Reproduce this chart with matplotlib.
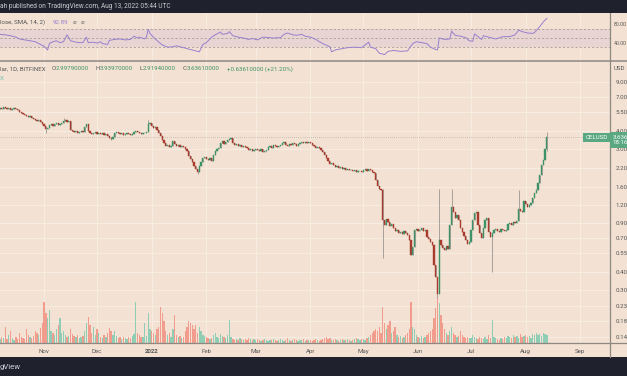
import numpy as np
import pandas as pd
import matplotlib
matplotlib.use('Agg')
import matplotlib.pyplot as plt
import matplotlib.ticker as mticker
from matplotlib.patches import Rectangle
from matplotlib.lines import Line2D
from matplotlib.transforms import blended_transform_factory, offset_copy

plt.rcParams['font.family'] = ['Roboto', 'DejaVu Sans']

# CEL/USD 日线收盘价（按月读出）
close_oct = [5.86, 5.76, 5.95, 5.86, 5.76, 5.86, 5.67, 5.76, 5.86, 5.76,
             5.67, 5.49, 5.40, 5.31, 5.22, 5.14, 5.06, 5.14, 4.97, 4.89,
             4.82, 4.74, 4.82, 4.66, 4.51]
close_nov = [4.37, 4.16, 4.23, 4.44, 4.51, 4.37, 4.51, 4.59, 4.44, 4.51,
             4.59, 4.74, 4.82, 4.66, 4.74, 4.09, 4.02, 3.96, 4.02, 3.89,
             3.96, 4.02, 3.96, 4.30, 4.51, 4.02, 3.89, 3.83, 3.89, 3.96]
close_dec = [3.83, 3.89, 3.83, 3.89, 3.77, 3.83, 3.71, 3.59, 3.53, 3.65,
             3.89, 3.96, 3.89, 3.83, 3.89, 3.77, 3.83, 3.89, 3.83, 3.77,
             3.83, 3.96, 4.02, 3.96, 3.89, 3.83, 3.89, 3.89, 3.96, 4.51,
             4.59]
close_jan = [4.37, 4.23, 4.30, 4.09, 3.89, 3.71, 3.47, 3.31, 3.15, 3.20,
             3.10, 3.15, 3.42, 3.25, 3.15, 3.20, 3.10, 3.15, 3.10, 3.00,
             2.90, 2.68, 2.55, 2.43, 2.27, 2.16, 2.06, 2.27, 2.43, 2.59,
             2.63]
close_feb = [2.55, 2.51, 2.59, 2.47, 2.72, 2.90, 3.00, 3.05, 3.31, 3.42,
             3.25, 3.36, 3.47, 3.53, 3.59, 3.31, 3.20, 3.25, 3.15, 3.20,
             3.10, 3.15, 3.10, 3.05, 2.95, 3.00, 2.90, 2.95]
close_mar = [3.00, 2.95, 2.90, 3.00, 2.86, 2.90, 2.95, 3.10, 3.15, 3.05,
             3.20, 3.15, 3.10, 3.15, 3.20, 3.31, 3.36, 3.20, 3.15, 3.25,
             3.20, 3.31, 3.25, 3.15, 3.25, 3.31, 3.36, 3.31, 3.36, 3.31,
             3.36]
close_apr = [3.31, 3.20, 3.15, 3.05, 3.10, 3.05, 2.95, 2.86, 2.72, 2.59,
             2.47, 2.35, 2.39, 2.31, 2.24, 2.27, 2.20, 2.24, 2.16, 2.20,
             2.13, 2.16, 2.13, 2.13, 2.09, 2.13, 2.06, 2.09, 2.09, 2.06]
close_may = [2.13, 2.16, 2.09, 2.16, 2.13, 2.06, 2.03, 1.81, 1.64, 1.56,
             1.54, 0.94, 0.87, 0.96, 0.91, 0.85, 0.88, 0.83, 0.79, 0.80,
             0.76, 0.77, 0.75, 0.79, 0.76, 0.74, 0.68, 0.53, 0.61, 0.80,
             0.81]
close_jun = [0.79, 0.80, 0.83, 0.79, 0.80, 0.71, 0.69, 0.66, 0.63, 0.45,
             0.37, 0.28, 0.68, 0.63, 0.60, 0.58, 0.62, 0.59, 0.87, 1.16,
             1.07, 0.97, 1.02, 0.94, 0.83, 0.77, 0.72, 0.68, 0.64, 0.66]
close_jul = [0.80, 0.94, 1.05, 1.07, 0.87, 0.76, 0.70, 0.83, 0.94, 0.97,
             0.77, 0.71, 0.76, 0.80, 0.81, 0.79, 0.77, 0.81, 0.80, 0.79,
             0.80, 0.88, 0.90, 0.87, 0.91, 0.90, 0.93, 1.13, 1.09, 1.07,
             1.28]
close_aug = [1.22, 1.16, 1.20, 1.24, 1.35, 1.46, 1.54, 1.71, 1.96, 2.31,
             2.51, 3.00, 3.636]

# 成交量（相对值）
vol_oct = [4, 6, 5, 16, 4, 8, 12, 5, 3, 6, 4, 10, 6, 5, 4, 14, 8, 6, 5, 7,
           12, 10, 8, 15, 20]
vol_nov = [41, 30, 25, 33, 12, 10, 8, 14, 18, 25, 10, 12, 8, 6, 7, 14, 9, 7,
           6, 8, 5, 6, 7, 12, 20, 26, 18, 10, 16, 8]
vol_dec = [14, 10, 6, 5, 8, 6, 10, 15, 12, 8, 12, 7, 5, 6, 4, 6, 5, 4, 6, 5,
           7, 9, 41, 10, 8, 6, 6, 20, 7, 30, 14]
vol_jan = [12, 10, 8, 14, 16, 36, 30, 22, 12, 8, 10, 6, 14, 28, 8, 6, 7, 5,
           6, 12, 16, 22, 20, 18, 14, 18, 10, 16, 12, 8, 7]
vol_feb = [6, 5, 4, 5, 8, 10, 6, 5, 9, 7, 6, 5, 8, 23, 6, 4, 3, 4, 3, 5, 4,
           3, 4, 3, 5, 4, 3, 4]
vol_mar = [3, 4, 3, 2, 3, 4, 3, 2, 3, 3, 4, 3, 2, 3, 4, 3, 2, 3, 5, 3, 2, 3,
           4, 3, 2, 3, 3, 4, 2, 3, 3]
vol_apr = [3, 2, 3, 4, 3, 2, 3, 4, 5, 6, 4, 5, 3, 3, 4, 3, 2, 3, 4, 3, 3, 4,
           3, 2, 3, 4, 5, 4, 3, 4]
vol_may = [4, 3, 5, 6, 8, 10, 12, 14, 12, 16, 10, 36, 20, 14, 18, 22, 10, 12,
           16, 8, 6, 7, 5, 6, 8, 10, 14, 41, 16, 14, 8]
vol_jun = [6, 5, 7, 5, 6, 8, 10, 12, 14, 25, 35, 44, 40, 28, 20, 14, 10, 8,
           12, 16, 10, 8, 6, 7, 12, 8, 6, 5, 6, 5]
vol_jul = [5, 8, 6, 5, 4, 6, 5, 4, 6, 4, 8, 5, 23, 6, 5, 4, 3, 5, 4, 6, 5, 7,
           6, 5, 8, 6, 7, 5, 9, 6, 7]
vol_aug = [8, 6, 7, 5, 9, 8, 10, 8, 9, 7, 10, 9, 8]

# 明显的影线
wick_high = {'2021-11-12': 4.97, '2021-12-30': 4.82, '2022-05-12': 1.56,
             '2022-06-13': 1.56, '2022-06-20': 1.56, '2022-07-28': 1.54,
             '2022-08-13': 3.9397}
wick_low = {'2021-11-02': 3.89, '2021-12-09': 3.47, '2022-01-27': 2.00,
            '2022-05-12': 0.51, '2022-06-12': 0.21, '2022-07-13': 0.40,
            '2022-08-13': 2.9194}
first_open = 5.80

# RSI（距起始日的天数, 数值）
rsi_day = [0, 3, 6, 9, 11, 14, 17, 20, 23, 25, 27, 28, 30, 32, 34, 36, 38, 40,
           43, 45, 47, 49, 50, 53, 55, 57, 58, 61, 62, 65, 68, 71, 74, 76, 78,
           79, 82, 83, 84, 85, 87, 88, 91, 92, 95, 98, 100, 103, 106, 109, 111,
           113, 115, 117, 120, 122, 125, 126, 129, 130, 132, 135, 138, 141,
           143, 146, 149, 152, 155, 159, 161, 163, 166, 168, 171, 173, 176,
           179, 181, 184, 187, 188, 190, 194, 197, 201, 205, 209, 210, 213,
           215, 218, 220, 223, 227, 231, 234, 236, 239, 242, 244, 247, 248,
           249, 252, 255, 256, 258, 261, 264, 266, 268, 269, 272, 273, 274,
           278, 281, 285, 289, 292, 294, 296, 299, 302, 303, 306, 308, 310]
rsi_val = [58, 57, 55, 52, 48, 46, 44, 42, 36, 32, 24, 38, 42, 44, 40, 42, 57,
           44, 41, 40, 40, 52, 40, 41, 39, 42, 38, 36, 45, 47, 48, 46, 47, 54,
           50, 52, 48, 52, 69, 60, 52, 48, 38, 35, 30, 31, 33, 30, 27, 24, 22,
           20, 36, 40, 52, 57, 63, 58, 60, 64, 55, 52, 50, 47, 49, 46, 52, 51,
           50, 51, 58, 61, 57, 56, 58, 54, 52, 47, 42, 36, 31, 20, 24, 27, 29,
           30, 29, 41, 30, 27, 17, 14, 21, 23, 21, 22, 38, 42, 40, 38, 30, 25,
           24, 50, 47, 48, 65, 56, 54, 51, 44, 43, 59, 50, 47, 55, 51, 48, 53,
           53, 57, 67, 64, 61, 60, 62, 75, 85, 93]

price_ticks = [9.0, 7.0, 5.5, 4.0, 3.0, 2.2, 1.6, 1.2, 0.9, 0.7, 0.55, 0.4,
               0.3, 0.23, 0.18, 0.14]
rsi_ticks = [80, 40]
month_ticks = ['2021-11-01', '2021-12-01', '2022-01-01', '2022-02-01',
               '2022-03-01', '2022-04-01', '2022-05-01', '2022-06-01',
               '2022-07-01', '2022-08-01', '2022-09-01']
month_labels = ['Nov', 'Dec', '2022', 'Feb', 'Mar', 'Apr', 'May', 'Jun',
                'Jul', 'Aug', 'Sep']

BG = '#F3E2D3'
DARK = '#1F222C'
GRID = '#F8EDE3'
UP, DN = '#3F9168', '#A73B2E'
WICK = '#9B958F'
VUP, VDN = '#8FCDB5', '#F19C8D'
RSI_C = '#9880CF'
BAND = '#E8D4D2'
TAG = '#5AA882'
TXT = '#555555'
SPINE = '#8E8883'
FS = 4.4

closes = (close_oct + close_nov + close_dec + close_jan + close_feb + close_mar
          + close_apr + close_may + close_jun + close_jul + close_aug)
volume = (vol_oct + vol_nov + vol_dec + vol_jan + vol_feb + vol_mar + vol_apr
          + vol_may + vol_jun + vol_jul + vol_aug)
dates = pd.date_range('2021-10-07', periods=len(closes), freq='D')
c = np.array(closes)
o = np.array([first_open] + closes[:-1])
up = c >= o
top = np.maximum(o, c)
bot = np.minimum(o, c)
hi = top.copy()
lo = bot.copy()
for d, v in wick_high.items():
    hi[dates.get_loc(pd.Timestamp(d))] = v
for d, v in wick_low.items():
    lo[dates.get_loc(pd.Timestamp(d))] = v

W, H = 627, 376
fig = plt.figure(figsize=(W / 100, H / 100), dpi=100, facecolor=BG)


def fx(x):
    return x / W


def fy(y):
    return 1 - y / H


ax_rsi = fig.add_axes([0, fy(61), fx(610), fy(13) - fy(61)])
ax = fig.add_axes([0, fy(343), fx(610), fy(61) - fy(343)])
ax_vol = ax.twinx()

x0 = dates[0]
x1 = dates[0] + pd.Timedelta(days=345.8)
mt = pd.to_datetime(month_ticks)

# 主图：K线
ax.set_facecolor(BG)
ax.set_yscale('log')
ax.set_ylim(0.1263, 12.62)
ax.set_xlim(x0, x1)
ax.vlines(dates, lo, hi, color=WICK, lw=0.6, zorder=2)
cols = np.where(up, UP, DN)
ax.bar(dates, top - bot, bottom=bot, width=0.7, color=cols, edgecolor=cols,
       linewidth=0.3, zorder=3)
ax.axhline(c[-1], color='#A09A94', lw=0.5, ls=(0, (1, 2)), zorder=1)

ax.yaxis.tick_right()
ax.set_yticks(price_ticks)
ax.set_yticklabels(['%.2f' % v for v in price_ticks])
ax.yaxis.set_minor_locator(mticker.NullLocator())
ax.yaxis.set_minor_formatter(mticker.NullFormatter())
ax.tick_params(axis='y', length=0, pad=4, labelsize=FS, colors=TXT)
ax.set_xticks(mt)
ax.set_xticklabels(month_labels)
ax.tick_params(axis='x', length=0, pad=4.5, labelsize=FS, colors=TXT)
ax.get_xticklabels()[2].set_fontweight('bold')
ax.grid(True, color=GRID, lw=0.7, zorder=0)
ax.set_axisbelow(True)
for s in ['left', 'top', 'bottom']:
    ax.spines[s].set_visible(False)
ax.spines['right'].set_color(SPINE)
ax.spines['right'].set_linewidth(0.9)

# 成交量
ax_vol.patch.set_visible(False)
ax_vol.set_ylim(0, 282)
ax_vol.bar(dates, volume, width=0.75, color=np.where(up, VUP, VDN),
           linewidth=0)
ax_vol.set_yticks([])
for s in ax_vol.spines.values():
    s.set_visible(False)
ax_vol.set_xlim(x0, x1)

# RSI
ax_rsi.set_facecolor(BG)
ax_rsi.set_xlim(x0, x1)
ax_rsi.set_ylim(0, 104.5)
ax_rsi.axhspan(30, 70, color=BAND, lw=0, zorder=1)
for lv in (70, 50, 30):
    ax_rsi.axhline(lv, color='#A39C97', lw=0.6, ls=(0, (2.5, 2.5)), zorder=2)
rsi_dates = x0 + pd.to_timedelta(rsi_day, unit='D')
ax_rsi.plot(rsi_dates, rsi_val, color=RSI_C, lw=0.7, zorder=3)
ax_rsi.yaxis.tick_right()
ax_rsi.set_yticks(rsi_ticks)
ax_rsi.set_yticklabels(['%.2f' % v for v in rsi_ticks])
ax_rsi.tick_params(axis='y', length=0, pad=2.6, labelsize=3.7, colors=TXT)
ax_rsi.set_xticks(mt)
ax_rsi.tick_params(axis='x', length=0, labelbottom=False)
ax_rsi.grid(True, axis='x', color=GRID, lw=0.7, zorder=0)
ax_rsi.set_axisbelow(True)
for s in ['left', 'top', 'bottom']:
    ax_rsi.spines[s].set_visible(False)
ax_rsi.spines['right'].set_color(SPINE)
ax_rsi.spines['right'].set_linewidth(0.9)

# 分隔线与深色条
fig.add_artist(Line2D([0, 1], [fy(61), fy(61)], color=SPINE, lw=1.1))
fig.add_artist(Line2D([0, 1], [fy(343), fy(343)], color=SPINE, lw=0.9))
fig.add_artist(Line2D([fx(610), fx(610)], [fy(357), fy(343)], color=SPINE,
                      lw=0.9))
fig.add_artist(Rectangle((0, fy(13)), 1, 1 - fy(13), transform=fig.transFigure,
                         color=DARK, lw=0))
fig.add_artist(Rectangle((0, 0), 1, fy(357), transform=fig.transFigure,
                         color=DARK, lw=0))

# 文字
fig.text(fx(0), fy(7), 'ah published on TradingView.com, Aug 13, 2022 05:44 UTC',
         color='#C9CBD2', fontsize=4.7, va='center', ha='left')
fig.text(fx(0), fy(22), 'lose, SMA, 14, 2)', color=TXT, fontsize=FS,
         va='center')
fig.text(fx(53), fy(22), '92.89', color=RSI_C, fontsize=FS, va='center')
fig.text(fx(73), fy(22), '⌀', color='#777777', fontsize=FS, va='center')
fig.text(fx(81), fy(22), '⌀', color='#777777', fontsize=FS, va='center')
fig.text(fx(0), fy(69), 'lar, 1D, BITFINEX', color=TXT, fontsize=FS,
         va='center')
ohlc = [(52, 'O', '2.99790000'), (96, 'H', '3.93970000'),
        (139, 'L', '2.91940000'), (183, 'C', '3.63610000')]
for px, k, v in ohlc:
    fig.text(fx(px), fy(69), k, color=TXT, fontsize=FS, va='center')
    fig.text(fx(px + 3.5), fy(69), v, color=UP, fontsize=FS, va='center')
fig.text(fx(227), fy(69), '+0.63610000 (+21.20%)', color=UP, fontsize=FS,
         va='center')
fig.text(fx(0), fy(78), 'X', color='#6CC1A9', fontsize=FS, va='center')
fig.text(fx(614), fy(68), 'USD', color=TXT, fontsize=FS, va='center')
fig.text(fx(0), fy(367), 'gView', color='#D1D4DC', fontsize=5.6, va='center')

bt = blended_transform_factory(ax.transAxes, ax.transData)
ax.text(0.996, c[-1], 'CELUSD', transform=bt, ha='right', va='center',
        fontsize=FS, color='white', zorder=5,
        bbox=dict(boxstyle='square,pad=0.35', fc=TAG, ec='none'))
ax.text(1.004, c[-1], '3.636\n18:16', ha='left', va='center',
        transform=offset_copy(bt, fig=fig, y=-2.7, units='dots'),
        fontsize=FS, color='white', linespacing=1.15, clip_on=False,
        zorder=5, bbox=dict(boxstyle='square,pad=0.45', fc=TAG, ec='none'))

fig.savefig('out.png', dpi=100, facecolor=BG)
